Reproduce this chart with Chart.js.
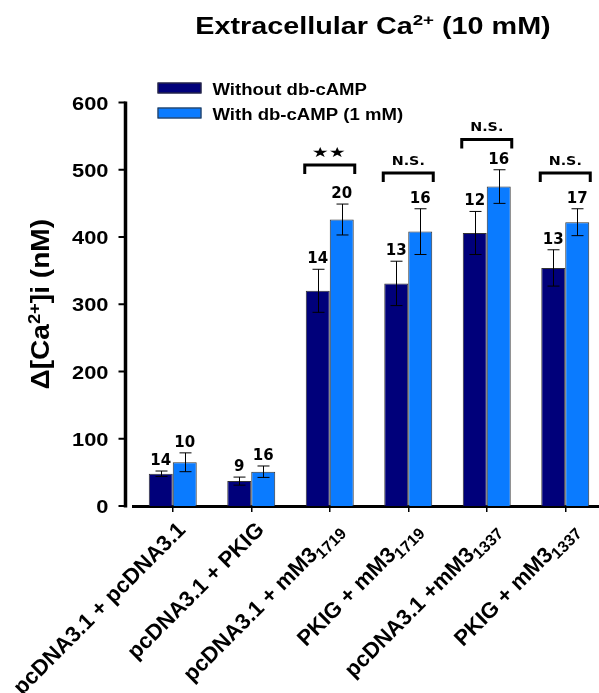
<!DOCTYPE html>
<html><head><meta charset="utf-8">
<script src="https://cdn.jsdelivr.net/npm/chart.js@4.4.0/dist/chart.umd.min.js"></script>
<style>html,body{margin:0;padding:0;overflow:hidden;background:#fff}</style>
</head><body>
<canvas id="c" width="610" height="693"></canvas>
<script>
const categories = ["pcDNA3.1 + pcDNA3.1", "pcDNA3.1 + PKIG", "pcDNA3.1 + mM3", "PKIG + mM3", "pcDNA3.1 +mM3", "PKIG + mM3"];
const categorySubscripts = ["", "", "1719", "1719", "1337", "1337"];
const seriesNames = ["Without db-cAMP", "With db-cAMP (1 mM)"];
const withoutValues = [48, 37, 320, 331, 406, 354];
const withValues = [65, 51, 426, 408, 475, 422];
const withoutErrors = [4, 6, 32, 33, 32, 27];
const withErrors = [14, 8.5, 23, 34, 25, 20];
const withoutN = [14, 9, 14, 13, 12, 13];
const withN = [10, 16, 20, 16, 16, 17];
const sigLabels = ["", "", "★★", "N.S.", "N.S.", "N.S."];
const sigLevels = [null, null, 507, 495, 545, 495];
const yTicks = [0, 100, 200, 300, 400, 500, 600];

const COLORS = ["#00007a", "#0a7bff"];
const AF = '"Liberation Sans", Arial, sans-serif';
const DF = '"DejaVu Sans", Verdana, sans-serif';

function drawRich(ctx, segs, x, y, align, sx, rot) {
  ctx.save();
  ctx.translate(x, y);
  if (rot) ctx.rotate(rot);
  ctx.scale(sx || 1, 1);
  let total = 0;
  segs.forEach(s => { ctx.font = s.font; s.w = ctx.measureText(s.t).width; total += s.w; });
  let cx = align === 'center' ? -total / 2 : align === 'right' ? -total : 0;
  ctx.textAlign = 'left'; ctx.textBaseline = 'alphabetic'; ctx.fillStyle = '#000';
  segs.forEach(s => { ctx.font = s.font; ctx.fillText(s.t, cx, s.dy || 0); cx += s.w; });
  ctx.restore();
}

const deco = {
  id: 'deco',
  afterDatasetsDraw(chart) {
    const ctx = chart.ctx, ys = chart.scales.y;
    const vals = [withoutValues, withValues], errs = [withoutErrors, withErrors], ns = [withoutN, withN];
    for (let d = 0; d < 2; d++) {
      chart.getDatasetMeta(d).data.forEach((bar, i) => {
        const v = vals[d][i], e = errs[d][i];
        const yt = ys.getPixelForValue(v + e), yb = ys.getPixelForValue(v - e);
        const x = Math.round(bar.x) + 0.5;
        ctx.save();
        ctx.strokeStyle = '#000'; ctx.lineWidth = 1;
        ctx.beginPath();
        ctx.moveTo(x, yt); ctx.lineTo(x, yb);
        ctx.moveTo(x - 6, yt); ctx.lineTo(x + 6, yt);
        ctx.moveTo(x - 6, yb); ctx.lineTo(x + 6, yb);
        ctx.stroke();
        ctx.restore();
        drawRich(ctx, [{t: String(ns[d][i]), font: 'bold 15px ' + DF}], bar.x, yt - 6, 'center', 1);
      });
    }
  },
  afterDraw(chart) {
    const ctx = chart.ctx, ys = chart.scales.y, xs = chart.scales.x, ca = chart.chartArea;
    // y axis (offset from plot area)
    const axX = ca.left - 8;
    ctx.save();
    ctx.strokeStyle = '#000';
    ctx.lineWidth = 3.5;
    ctx.beginPath();
    ctx.moveTo(axX, ys.getPixelForValue(yTicks[yTicks.length - 1]) - 1);
    ctx.lineTo(axX, ys.getPixelForValue(yTicks[0]) + 1.5);
    ctx.stroke();
    ctx.lineWidth = 2;
    yTicks.forEach(t => {
      const y = ys.getPixelForValue(t);
      ctx.beginPath(); ctx.moveTo(axX - 7, y); ctx.lineTo(axX, y); ctx.stroke();
      drawRich(ctx, [{t: String(t), font: 'bold 19px ' + AF}], axX - 17, y + 7, 'right', 1.15);
    });
    ctx.restore();

    // y title
    drawRich(ctx, [
      {t: 'Δ[Ca', font: 'bold 26px ' + AF},
      {t: '2+', font: 'bold 17px ' + AF, dy: -9},
      {t: ']i (nM)', font: 'bold 26px ' + AF}
    ], 49, (ca.top + ca.bottom) / 2, 'center', 1.08, -Math.PI / 2);

    // title
    drawRich(ctx, [
      {t: 'Extracellular Ca', font: 'bold 23px ' + AF},
      {t: '2+', font: 'bold 15px ' + AF, dy: -9.5},
      {t: ' (10 mM)', font: 'bold 23px ' + AF}
    ], (ca.left + ca.right) / 2 + 4, 34, 'center', 1.25);

    // legend
    seriesNames.forEach((name, k) => {
      const top = ca.top - 20 + k * 25;
      ctx.save();
      ctx.fillStyle = COLORS[k];
      ctx.fillRect(ca.left + 24, top, 44, 11);
      ctx.strokeStyle = '#333'; ctx.lineWidth = 1;
      ctx.strokeRect(ca.left + 24 + 0.5, top + 0.5, 43, 10);
      ctx.restore();
      drawRich(ctx, [{t: name, font: 'bold 16px ' + AF}], ca.left + 79, top + 12.5, 'left', 1.16);
    });

    // x labels with subscripts
    categories.forEach((c, i) => {
      const tx = xs.getPixelForValue(i);
      const segs = [{t: c, font: 'bold 22px ' + AF}];
      if (categorySubscripts[i]) segs.push({t: categorySubscripts[i], font: 'bold 16px ' + AF, dy: 5});
      drawRich(ctx, segs, tx + 14, ca.bottom + 25, 'right', 1, -Math.PI / 4);
    });

    // significance brackets
    sigLabels.forEach((s, i) => {
      if (!s) return;
      const cx = xs.getPixelForValue(i);
      const yt = ys.getPixelForValue(sigLevels[i]);
      ctx.save();
      ctx.strokeStyle = '#000'; ctx.lineWidth = 3; ctx.lineJoin = 'miter';
      ctx.beginPath();
      ctx.moveTo(cx - 25, yt + 9); ctx.lineTo(cx - 25, yt); ctx.lineTo(cx + 25, yt); ctx.lineTo(cx + 25, yt + 9);
      ctx.stroke();
      ctx.restore();
      if (s === 'N.S.') drawRich(ctx, [{t: s, font: 'bold 13px ' + DF}], cx, yt - 8, 'center', 1.1);
      else drawRich(ctx, [{t: s, font: '14px ' + DF}], cx - 1, yt - 8, 'center', 1.35);
    });
  }
};

new Chart(document.getElementById('c'), {
  type: 'bar',
  data: {
    labels: categories.map((c, i) => c + categorySubscripts[i]),
    datasets: [
      {label: seriesNames[0], data: withoutValues, backgroundColor: COLORS[0], borderColor: '#333', borderWidth: 1},
      {label: seriesNames[1], data: withValues, backgroundColor: COLORS[1], borderColor: '#333', borderWidth: 1}
    ]
  },
  options: {
    responsive: false,
    animation: false,
    devicePixelRatio: 1,
    layout: {padding: {left: 133.5, top: 102.5, right: 5.5, bottom: 0}},
    datasets: {bar: {categoryPercentage: 0.611, barPercentage: 1.0}},
    plugins: {legend: {display: false}, title: {display: false}, tooltip: {enabled: false}},
    scales: {
      y: {display: false, min: 0, max: 600},
      x: {
        display: true,
        grid: {display: true, drawOnChartArea: false, drawTicks: true, tickLength: 6, offset: false, color: '#000', lineWidth: 1.5},
        border: {display: true, color: '#000', width: 3},
        ticks: {display: false},
        afterFit(scale) { scale.height = 187; }
      }
    }
  },
  plugins: [deco]
});
</script>
</body></html>
